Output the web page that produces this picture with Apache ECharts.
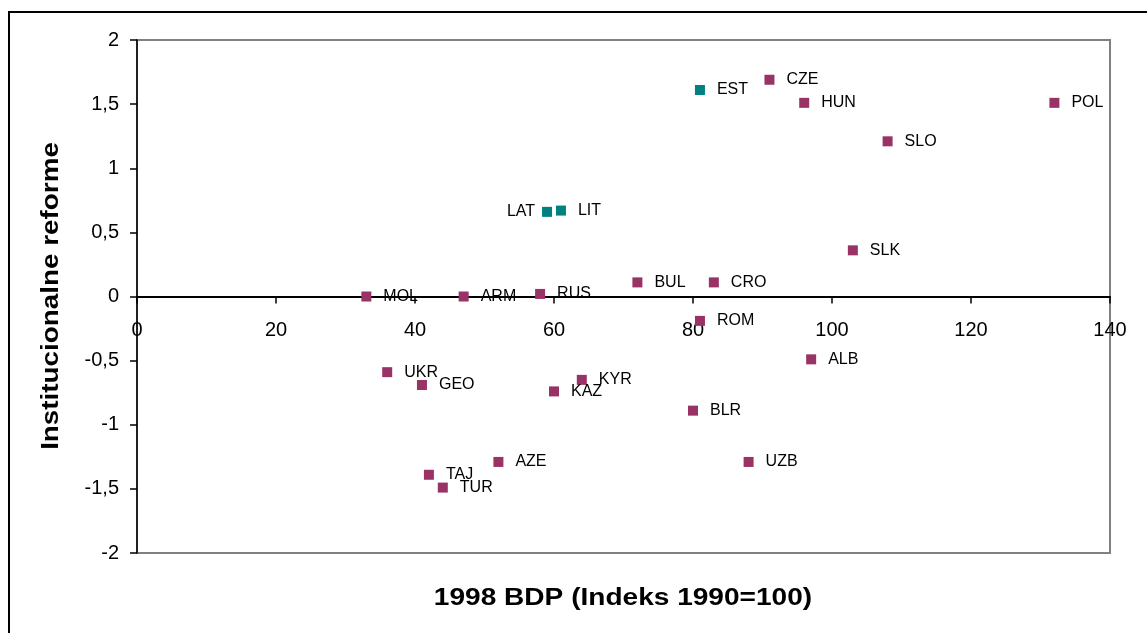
<!DOCTYPE html>
<html>
<head>
<meta charset="utf-8">
<script src="https://cdn.jsdelivr.net/npm/echarts@6/dist/echarts.min.js"></script>
<style>
html,body{margin:0;padding:0;background:#fff;}
#chart{width:1147px;height:633px;}
</style>
</head>
<body>
<div id="chart"></div>
<script>
// Baltic group (teal)
const balticNames = ['EST', 'LAT', 'LIT'];
const balticX = [81, 59, 61];
const balticY = [1.61, 0.66, 0.67];

// Other transition countries (purple)
const otherNames = ['CZE', 'HUN', 'POL', 'SLO', 'SLK', 'BUL', 'CRO', 'MOL', 'ARM', 'RUS', 'ROM', 'ALB',
  'UKR', 'GEO', 'KYR', 'KAZ', 'BLR', 'AZE', 'UZB', 'TAJ', 'TUR'];
const otherX = [91, 96, 132, 108, 103, 72, 83, 33, 47, 58, 81, 97,
  36, 41, 64, 60, 80, 52, 88, 42, 44];
const otherY = [1.69, 1.51, 1.51, 1.21, 0.36, 0.11, 0.11, 0.0, 0.0, 0.02, -0.19, -0.49,
  -0.59, -0.69, -0.65, -0.74, -0.89, -1.29, -1.29, -1.39, -1.49];

const xTicks = [0, 20, 40, 60, 80, 100, 120, 140];
const yTicks = [-2, -1.5, -1, -0.5, 0, 0.5, 1, 1.5, 2];

const xTitle = '1998 BDP (Indeks 1990=100)';
const yTitle = 'Institucionalne reforme';

const labelsOnLeft = ['LAT'];

function buildData(names, xs, ys) {
  return names.map((n, i) => {
    const item = { name: n, value: [xs[i], ys[i]] };
    if (labelsOnLeft.includes(n)) {
      item.label = { position: 'left', distance: 7 };
    }
    return item;
  });
}

const FONT = '"Liberation Sans", Arial, sans-serif';

const GRID = { left: 137, right: 37, top: 40, bottom: 80 };
const H = 633;
const gridHeight = H - GRID.top - GRID.bottom;
const yMin = yTicks[0], yMax = yTicks[yTicks.length - 1];
// x axis crosses the y axis at value 0: shift it up from the grid bottom
const xAxisOffset = -gridHeight * (0 - yMin) / (yMax - yMin);

const labelStyle = {
  show: true,
  position: 'right',
  distance: 12,
  formatter: p => p.name,
  color: '#000',
  fontFamily: FONT,
  fontSize: 16
};

const chart = echarts.init(document.getElementById('chart'), null, { renderer: 'canvas' });

chart.setOption({
  animation: false,
  backgroundColor: '#fff',
  grid: Object.assign({}, GRID, {
    show: true, borderColor: '#808080', borderWidth: 2, backgroundColor: 'transparent'
  }),
  xAxis: {
    type: 'value',
    position: 'bottom',
    offset: xAxisOffset,
    min: xTicks[0], max: xTicks[xTicks.length - 1], interval: xTicks[1] - xTicks[0],
    axisLine: { show: true, onZero: false, lineStyle: { color: '#000', width: 2 } },
    axisTick: { show: true, length: 7, lineStyle: { color: '#000', width: 1.5 } },
    axisLabel: { color: '#000', fontFamily: FONT, fontSize: 20, margin: 24 },
    splitLine: { show: false }
  },
  yAxis: {
    type: 'value',
    min: yMin, max: yMax, interval: yTicks[1] - yTicks[0],
    axisLine: { show: true, onZero: false, lineStyle: { color: '#000', width: 1.5 } },
    axisTick: { show: true, length: 7, lineStyle: { color: '#000', width: 1.5 } },
    axisLabel: {
      color: '#000', fontFamily: FONT, fontSize: 20, margin: 18,
      formatter: v => String(v).replace('.', ',')
    },
    splitLine: { show: false }
  },
  series: [
    {
      name: 'Baltic',
      type: 'scatter',
      symbol: 'rect',
      symbolSize: 10,
      itemStyle: { color: '#008080', opacity: 1 },
      label: labelStyle,
      data: buildData(balticNames, balticX, balticY)
    },
    {
      name: 'Other',
      type: 'scatter',
      symbol: 'rect',
      symbolSize: 10,
      itemStyle: { color: '#993366', opacity: 1 },
      label: labelStyle,
      data: buildData(otherNames, otherX, otherY)
    }
  ],
  graphic: [
    {
      type: 'rect',
      shape: { x: 9, y: 12, width: 1300, height: 800 },
      style: { fill: 'none', stroke: '#000', lineWidth: 2 },
      silent: true
    },
    {
      type: 'text',
      x: 623, y: 599,
      scaleX: 1.22,
      style: {
        text: xTitle, fill: '#000', font: 'bold 23px ' + FONT,
        textAlign: 'center', textVerticalAlign: 'middle'
      }
    },
    {
      type: 'text',
      x: 52, y: 296,
      rotation: Math.PI / 2,
      scaleX: 1.21,
      style: {
        text: yTitle, fill: '#000', font: 'bold 23px ' + FONT,
        textAlign: 'center', textVerticalAlign: 'middle'
      }
    }
  ]
});
</script>
</body>
</html>
